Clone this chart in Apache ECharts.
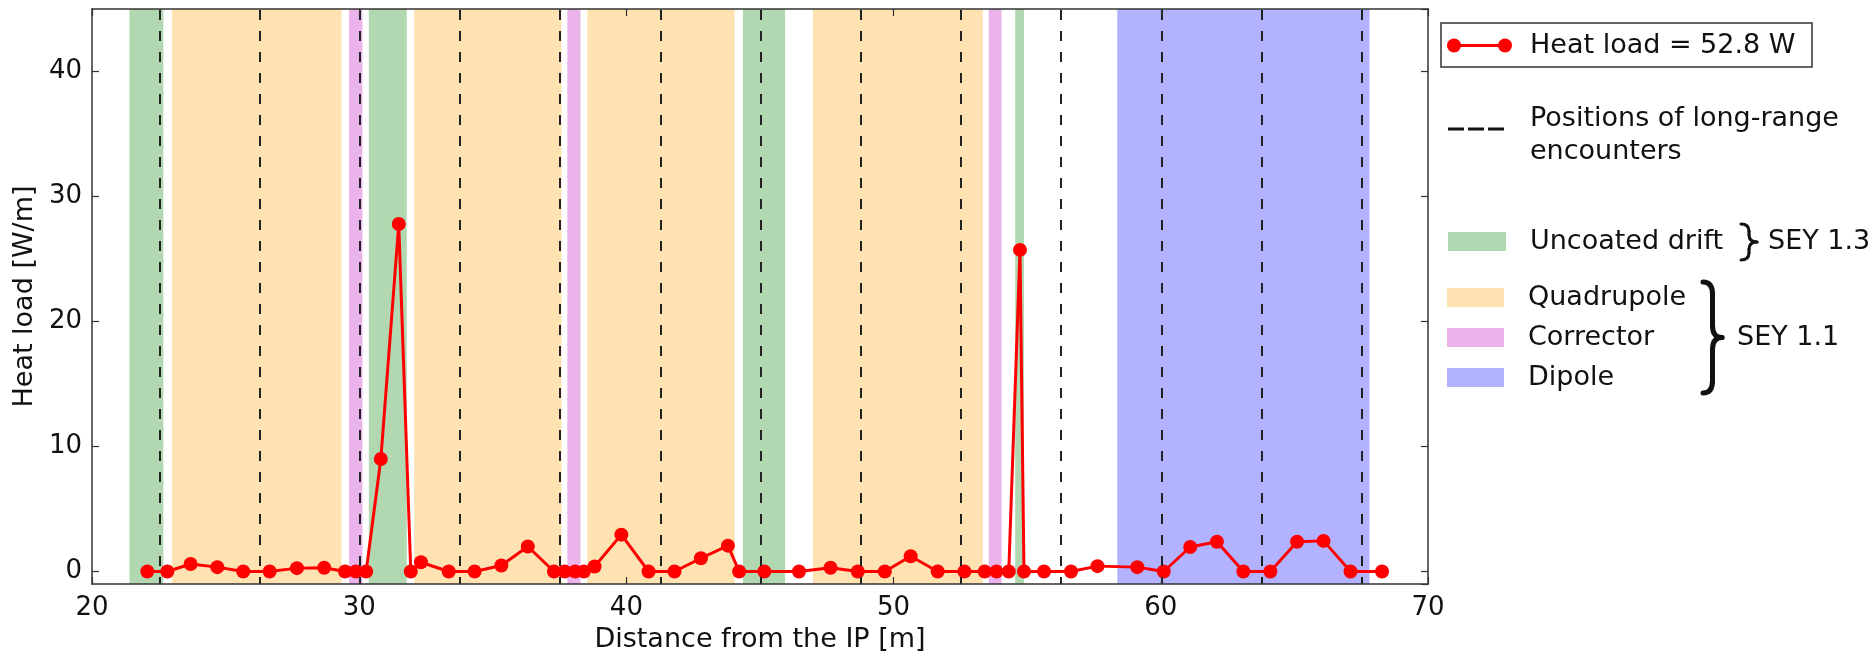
<!DOCTYPE html>
<html>
<head>
<meta charset="utf-8">
<script src="https://cdn.jsdelivr.net/npm/echarts@6/dist/echarts.min.js"></script>
<style>
  html, body { margin: 0; padding: 0; background: #fff; }
  #chart { width: 1875px; height: 658px; }
</style>
</head>
<body>
<div id="chart"></div>
<script>
// Heat load profile along the beam line (positions in m, heat load in W/m)
const positions = [22.07, 22.82, 23.69, 24.69, 25.66, 26.65, 27.67, 28.69, 29.47, 29.87,
  30.26, 30.81, 31.48, 31.93, 32.31, 33.35, 34.32, 35.32, 36.31, 37.29,
  37.69, 38.08, 38.41, 38.81, 39.81, 40.83, 41.80, 42.79, 43.80, 44.22,
  45.16, 46.46, 47.64, 48.66, 49.67, 50.64, 51.65, 52.65, 53.41, 53.85,
  54.31, 54.73, 54.88, 55.63, 56.64, 57.63, 59.12, 60.11, 61.10, 62.10,
  63.09, 64.10, 65.10, 66.09, 67.10, 68.28];
const heatLoad = [0, 0, 0.6, 0.35, 0, 0, 0.27, 0.3, 0, 0,
  0, 9.0, 27.8, 0, 0.74, 0, 0, 0.48, 2.0, 0,
  0, 0, 0, 0.4, 2.95, 0, 0, 1.06, 2.07, 0,
  0, 0, 0.3, 0, 0, 1.22, 0, 0, 0, 0,
  0, 25.73, 0, 0, 0, 0.43, 0.35, 0, 1.96, 2.38,
  0, 0, 2.38, 2.45, 0, 0];

// Long-range encounter positions [m]
const encounters = [22.52, 26.27, 30.02, 33.77, 37.52, 41.27, 45.02, 48.77,
  52.52, 56.27, 60.02, 63.77, 67.52];

// Element extents [start, end] in m
const uncoatedDrift = [[21.40, 22.67], [30.36, 31.78], [44.36, 45.94], [54.55, 54.88]];
const quadrupole = [[22.99, 29.34], [32.06, 37.57], [38.54, 44.05], [46.98, 53.34]];
const corrector = [[29.62, 30.12], [37.79, 38.28], [53.56, 54.04]];
const dipole = [[58.37, 67.81]];

const xTicks = [20, 30, 40, 50, 60, 70];
const yTicks = [0, 10, 20, 30, 40];

const FONT = 'DejaVu Sans';
const LEGEND_FONT = '27px "DejaVu Sans"';
const colors = {
  drift: '#b2d8b2',
  quad: '#ffe2b2',
  corr: '#ebb3eb',
  dip: '#b2b2ff',
  line: '#ff0000'
};

function bandSeries(name, ranges, color) {
  return {
    name: name,
    type: 'line',
    data: [],
    z: 1,
    silent: true,
    markArea: {
      silent: true,
      itemStyle: { color: color, opacity: 1, borderWidth: 0 },
      emphasis: { disabled: true },
      data: ranges.map(r => [{ xAxis: r[0] }, { xAxis: r[1] }])
    }
  };
}

// Right-pointing curly brace built from curves and straight pieces
function brace(x0, x1, y0, y1, width) {
  const xm = (x0 + x1) / 2, ym = (y0 + y1) / 2;
  const r = Math.min(12, (y1 - y0) / 5);
  const st = { stroke: '#111', lineWidth: width, fill: null, lineCap: 'round' };
  return [
    { type: 'bezierCurve', shape: { x1: x0, y1: y0, cpx1: xm, cpy1: y0, x2: xm, y2: y0 + r }, style: st },
    { type: 'line', shape: { x1: xm, y1: y0 + r, x2: xm, y2: ym - r }, style: st },
    { type: 'bezierCurve', shape: { x1: xm, y1: ym - r, cpx1: xm, cpy1: ym, x2: x1, y2: ym }, style: st },
    { type: 'bezierCurve', shape: { x1: x1, y1: ym, cpx1: xm, cpy1: ym, x2: xm, y2: ym + r }, style: st },
    { type: 'line', shape: { x1: xm, y1: ym + r, x2: xm, y2: y1 - r }, style: st },
    { type: 'bezierCurve', shape: { x1: xm, y1: y1 - r, cpx1: xm, cpy1: y1, x2: x0, y2: y1 }, style: st }
  ];
}

function legendText(x, y, text) {
  return { type: 'text', x: x, y: y,
    style: { text: text, font: LEGEND_FONT, fill: '#111', verticalAlign: 'middle' } };
}

const axisLineStyle = { color: '#333', width: 1.5 };
const tickStyle = { show: true, inside: true, length: 7, lineStyle: { color: '#333', width: 1.2 } };

const option = {
  animation: false,
  backgroundColor: '#fff',
  grid: { left: 92, right: 447, top: 9, bottom: 70, containLabel: false },
  xAxis: [
    {
      type: 'value', min: xTicks[0], max: xTicks[xTicks.length - 1], interval: 10,
      position: 'bottom', z: 10,
      axisLine: { show: true, onZero: false, lineStyle: axisLineStyle },
      axisTick: tickStyle,
      splitLine: { show: false },
      axisLabel: { fontFamily: FONT, fontSize: 26, color: '#111', margin: 11 },
      name: 'Distance from the IP [m]',
      nameLocation: 'middle', nameGap: 42,
      nameTextStyle: { fontFamily: FONT, fontSize: 27, color: '#111' }
    },
    {
      type: 'value', min: xTicks[0], max: xTicks[xTicks.length - 1], interval: 10,
      position: 'top', z: 10,
      axisLine: { show: true, onZero: false, lineStyle: axisLineStyle },
      axisTick: tickStyle,
      splitLine: { show: false },
      axisLabel: { show: false }
    }
  ],
  yAxis: [
    {
      type: 'value', min: -1, max: 45, splitNumber: 5, z: 10,
      position: 'left',
      axisLine: { show: true, onZero: false, lineStyle: axisLineStyle },
      axisTick: tickStyle,
      splitLine: { show: false },
      axisLabel: {
        fontFamily: FONT, fontSize: 26, color: '#111', margin: 10,
        showMinLabel: false, showMaxLabel: false,
        formatter: v => (yTicks.indexOf(v) >= 0 ? String(v) : '')
      },
      name: 'Heat load [W/m]',
      nameLocation: 'middle', nameGap: 54, nameRotate: 90,
      nameTextStyle: { fontFamily: FONT, fontSize: 27, color: '#111' }
    },
    {
      type: 'value', min: -1, max: 45, splitNumber: 5, z: 10,
      position: 'right',
      axisLine: { show: true, onZero: false, lineStyle: axisLineStyle },
      axisTick: tickStyle,
      splitLine: { show: false },
      axisLabel: { show: false }
    }
  ],
  series: [
    bandSeries('Uncoated drift', uncoatedDrift, colors.drift),
    bandSeries('Quadrupole', quadrupole, colors.quad),
    bandSeries('Corrector', corrector, colors.corr),
    bandSeries('Dipole', dipole, colors.dip),
    {
      name: 'Positions of long-range encounters',
      type: 'line',
      data: [],
      z: 2,
      silent: true,
      markLine: {
        silent: true,
        symbol: ['none', 'none'],
        label: { show: false },
        emphasis: { disabled: true },
        lineStyle: { color: '#222', width: 2, type: [10, 11], dashOffset: 3 },
        data: encounters.map(v => ({ xAxis: v }))
      }
    },
    {
      name: 'Heat load = 52.8 W',
      type: 'line',
      z: 3,
      data: positions.map((x, i) => [x, heatLoad[i]]),
      symbol: 'circle',
      symbolSize: 14,
      showAllSymbol: true,
      lineStyle: { color: colors.line, width: 3 },
      itemStyle: { color: colors.line },
      emphasis: { disabled: true }
    }
  ],
  graphic: [
    // heat load entry in a framed box
    { type: 'rect', shape: { x: 1441, y: 23, width: 371, height: 44 },
      style: { fill: '#fff', stroke: '#333', lineWidth: 1.5 } },
    { type: 'line', shape: { x1: 1454, y1: 45.5, x2: 1505, y2: 45.5 },
      style: { stroke: colors.line, lineWidth: 3 } },
    { type: 'circle', shape: { cx: 1454, cy: 45.5, r: 7 }, style: { fill: colors.line } },
    { type: 'circle', shape: { cx: 1505, cy: 45.5, r: 7 }, style: { fill: colors.line } },
    legendText(1530, 46, 'Heat load = 52.8 W'),

    // encounter positions entry
    { type: 'line', shape: { x1: 1448, y1: 129, x2: 1505, y2: 129 },
      style: { stroke: '#111', lineWidth: 3, lineDash: [16, 4] } },
    legendText(1530, 119, 'Positions of long-range'),
    legendText(1530, 152, 'encounters'),

    // element type entries
    { type: 'rect', shape: { x: 1448, y: 232, width: 58, height: 19 }, style: { fill: colors.drift } },
    legendText(1530, 242, 'Uncoated drift'),
    ...brace(1741, 1757, 224, 260, 3),
    legendText(1768, 242, 'SEY 1.3'),

    { type: 'rect', shape: { x: 1447, y: 288, width: 57, height: 19 }, style: { fill: colors.quad } },
    legendText(1528, 298, 'Quadrupole'),
    { type: 'rect', shape: { x: 1447, y: 328, width: 57, height: 19 }, style: { fill: colors.corr } },
    legendText(1528, 338, 'Corrector'),
    { type: 'rect', shape: { x: 1447, y: 368, width: 57, height: 19 }, style: { fill: colors.dip } },
    legendText(1528, 378, 'Dipole'),
    ...brace(1703, 1722, 282, 393, 5),
    legendText(1737, 338, 'SEY 1.1')
  ]
};

const chart = echarts.init(document.getElementById('chart'), null, { renderer: 'canvas' });
chart.setOption(option);
</script>
</body>
</html>
